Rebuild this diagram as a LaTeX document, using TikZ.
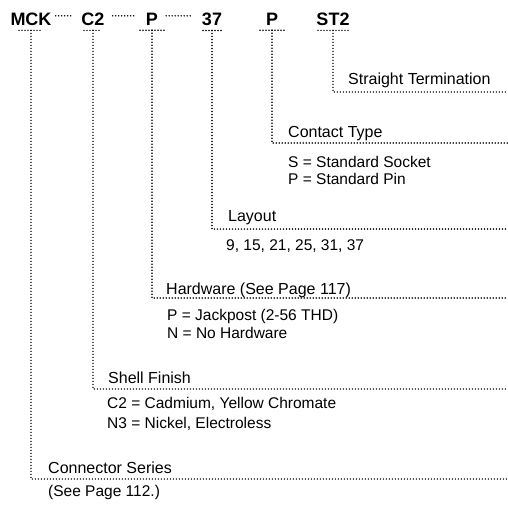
\documentclass[tikz,border=0pt]{standalone}
\usepackage{fontspec}
\setmainfont{Liberation Sans}
\usepackage{tikz}
\usetikzlibrary{calc,positioning}

\begin{document}
\begin{tikzpicture}[x=1pt, y=-1pt,
    dotline/.style={line width=1.7pt, line cap=round, dash pattern=on 0pt off 3pt},
    code/.style={anchor=base, inner xsep=2pt, inner ysep=5pt, font=\fontsize{18}{20}\selectfont\bfseries},
    lbl/.style={anchor=base west, inner sep=0pt, font=\fontsize{16}{19}\selectfont},
    sub/.style={anchor=base west, inner sep=0pt, font=\fontsize{15.5}{18}\selectfont}]
  \useasboundingbox (0,0) rectangle (508,504);

  % part number codes
  \node [code] at (31,25) (mck) {MCK};
  \node [code] at (93,25) (c2) {C2};
  \node [code] at (152,25) (hw) {P};
  \node [code] at (212,25) (lay) {37};
  \node [code] at (272,25) (ct) {P};
  \node [code] at (333,25) (term) {ST2};
  \draw [dotline, shorten <=2pt, shorten >=8pt] ([yshift=3pt] mck.east) -- ([yshift=3pt] c2.west);
  \draw [dotline, shorten <=6pt, shorten >=8pt] ([yshift=3pt] c2.east) -- ([yshift=3pt] hw.west);
  \draw [dotline, shorten <=6pt, shorten >=8pt] ([yshift=3pt] hw.east) -- ([yshift=3pt] lay.west);
  \foreach \n/\w in {mck/12,c2/9,hw/12,lay/9,ct/12,term/15}
    \draw [dotline] ([xshift=-\w pt] \n.south) -- ([xshift=\w pt] \n.south);

  % right ends of the leaders
  \coordinate (termE) at (508,92);
  \coordinate (ctE) at (508,143);
  \coordinate (layE) at (508,229);
  \coordinate (hwE) at (508,298);
  \coordinate (c2E) at (508,389);
  \coordinate (mckE) at (508,479);

  % Termination
  \node [lbl] at (348,84) (termL) {Straight Termination};
  \draw [dotline] (term.south) |- (termE);

  % Contact type
  \node [lbl] at (288,137) (ctL) {Contact Type};
  \node [sub] at (288,167) (ctS) {S = Standard Socket};
  \node [sub] at (288,184) (ctP) {P = Standard Pin};
  \draw [dotline] (ct.south) |- (ctE);

  % Layout
  \node [lbl] at (228,221) (layL) {Layout};
  \node [sub] at (226,250) (layS) {9, 15, 21, 25, 31, 37};
  \draw [dotline] (lay.south) |- (layE);

  % Hardware
  \node [lbl] at (166,294) (hwL) {Hardware (See Page 117)};
  \node [sub] at (167,320) (hwP) {P = Jackpost (2-56 THD)};
  \node [sub] at (167,338) (hwN) {N = No Hardware};
  \draw [dotline] (hw.south) |- (hwE);

  % Shell finish
  \node [lbl] at (108,383) (c2L) {Shell Finish};
  \node [sub] at (107,408) (c2C) {C2 = Cadmium, Yellow Chromate};
  \node [sub] at (107,428) (c2N) {N3 = Nickel, Electroless};
  \draw [dotline] (c2.south) |- (c2E);

  % Connector series
  \node [lbl] at (48,473) (mckL) {Connector Series};
  \node [sub] at (48,496) (mckS) {(See Page 112.)};
  \draw [dotline] (mck.south) |- (mckE);
\end{tikzpicture}
\end{document}
